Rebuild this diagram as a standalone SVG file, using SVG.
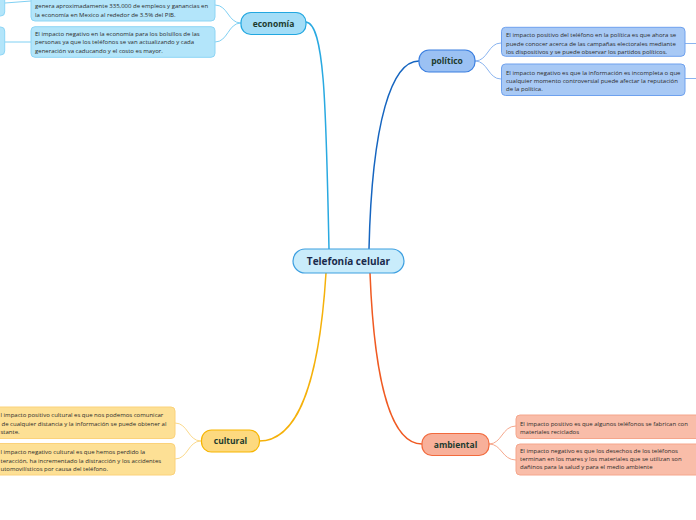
<svg xmlns="http://www.w3.org/2000/svg" width="696" height="520" viewBox="0 0 696 520">
<style>
.t{font-family:"Open Sans","Liberation Sans",sans-serif;font-size:6px;fill:#2b2b2b}
.n{font-family:"Open Sans","Liberation Sans",sans-serif;font-size:8.5px;font-weight:bold;fill:#1d3b2e;text-anchor:middle}
.c{font-family:"Open Sans","Liberation Sans",sans-serif;font-size:10px;font-weight:bold;fill:#1a2b4c;text-anchor:middle}
.main{fill:none;stroke-width:1.5}
.sub{fill:none;stroke-width:1}
.eb{fill:#b3e5fa;stroke:#8dd5f5;stroke-width:1}
.pb{fill:#a8c9f5;stroke:#6ea1ee;stroke-width:1}
.cb{fill:#fde095;stroke:#fbd27a;stroke-width:1}
.ab{fill:#f9bda9;stroke:#f5a68c;stroke-width:1}
</style>
<rect width="696" height="520" fill="#ffffff"/>
<g id="connectors">
<path class="main" stroke="#29a9e1" d="M329,249 C326,110 325,24 306,22"/>
<path class="main" stroke="#1565c0" d="M369,249 C372,120 392,61 419,61"/>
<path class="main" stroke="#f5b10a" d="M326,273 C318,400 292,441 259,441"/>
<path class="main" stroke="#f05a22" d="M370,273 C375,400 396,444 422,444"/>
<path class="sub" stroke="#7fd0f3" d="M241,23 C228,23 228,5 215,5"/>
<path class="sub" stroke="#7fd0f3" d="M241,23 C228,23 228,42 215,42"/>
<path class="sub" stroke="#7fd0f3" d="M5,3 L31,1"/>
<path class="sub" stroke="#7fd0f3" d="M5,42 L31,42"/>
<path class="sub" stroke="#8ab4f0" d="M475,61 C488,61 488,43 501,43"/>
<path class="sub" stroke="#8ab4f0" d="M475,61 C488,61 488,79 501,79"/>
<path class="sub" stroke="#8ab4f0" d="M685,43.5 L696,43.5"/>
<path class="sub" stroke="#8ab4f0" d="M685,78.5 L696,78.5"/>
<path class="sub" stroke="#fbd98a" d="M201,441 C188,441 188,423 175,423"/>
<path class="sub" stroke="#fbd98a" d="M201,441 C188,441 188,459 175,459"/>
<path class="sub" stroke="#f6a88d" d="M489,444 C502,444 502,426 516,426"/>
<path class="sub" stroke="#f6a88d" d="M489,444 C502,444 502,460 516,460"/>
</g>
<g id="central">
<rect x="293" y="249" width="111" height="24" rx="12" fill="#c9ecfb" stroke="#3d9fe0" stroke-width="1.2"/>
<text class="c" x="348.5" y="264.5">Telefonía celular</text>
</g>
<g id="economia">
<rect x="241" y="12.5" width="65" height="22" rx="10" fill="#a3ddf7" stroke="#22a7e0" stroke-width="1.2"/>
<text class="n" x="273.5" y="26.5">economía</text>
</g>
<g id="economia-left-1"><rect x="-20" y="-12" width="24.7" height="28" rx="4" class="eb"/></g>
<g id="economia-left-2"><rect x="-20" y="27" width="24.7" height="28" rx="4" class="eb"/></g>
<g id="economia-pos">
<rect x="31" y="-10" width="184" height="31" rx="4" class="eb"/>
<text class="t" x="35" y="8">genera aproximadamente 335,000 de empleos y ganancias en</text>
<text class="t" x="35" y="16.8">la economía en Mexico al rededor de 3.5% del PIB.</text>
</g>
<g id="economia-neg">
<rect x="31" y="26.7" width="184" height="30.6" rx="4" class="eb"/>
<text class="t" x="35" y="35.7">El impacto negativo en la economía para los bolsillos de las</text>
<text class="t" x="35" y="44.4">personas ya que los teléfonos se van actualizando y cada</text>
<text class="t" x="35" y="53">generación va caducando y el costo es mayor.</text>
</g>
<g id="politico">
<rect x="419" y="50" width="56" height="22" rx="10" fill="#9bc1f3" stroke="#3b7fe0" stroke-width="1.2"/>
<text class="n" x="447" y="64">político</text>
</g>
<g id="politico-pos">
<rect x="501.5" y="27.3" width="183.5" height="29" rx="4" class="pb"/>
<text class="t" x="506" y="37.3">El impacto positivo del teléfono en la política es que ahora se</text>
<text class="t" x="506" y="46">puede conocer acerca de las campañas electorales mediante</text>
<text class="t" x="506" y="54">los dispositivos y se puede observar los partidos políticos.</text>
</g>
<g id="politico-neg">
<rect x="501.5" y="64" width="183.5" height="31.5" rx="4" class="pb"/>
<text class="t" x="506" y="74.7">El impacto negativo es que la información es incompleta o que</text>
<text class="t" x="506" y="82.7">cualquier momento controversial puede afectar la reputación</text>
<text class="t" x="506" y="91">de la política.</text>
</g>
<g id="cultural">
<rect x="201.5" y="430" width="58" height="22" rx="10" fill="#fdd97f" stroke="#f7b500" stroke-width="1.2"/>
<text class="n" x="230.5" y="444">cultural</text>
</g>
<g id="cultural-pos">
<rect x="-10" y="407" width="185" height="31.5" rx="4" class="cb"/>
<text class="t" x="0.5" y="417">l impacto positivo cultural es que nos podemos comunicar</text>
<text class="t" x="1.5" y="426">de cualquier distancia y la información se puede obtener al</text>
<text class="t" x="0.5" y="434.3">stante.</text>
</g>
<g id="cultural-neg">
<rect x="-10" y="443.5" width="185" height="31.5" rx="4" class="cb"/>
<text class="t" x="0.5" y="454.3">l impacto negativo cultural es que hemos perdido la</text>
<text class="t" x="0.5" y="462.7">teracción, ha incrementado la distracción y los accidentes</text>
<text class="t" x="0.5" y="471">utomovilísticos por causa del teléfono.</text>
</g>
<g id="ambiental">
<rect x="422" y="433.5" width="67" height="22" rx="10" fill="#f8b09a" stroke="#f26a3d" stroke-width="1.2"/>
<text class="n" x="455.5" y="447.5">ambiental</text>
</g>
<g id="ambiental-pos">
<rect x="516" y="415" width="190" height="23.5" rx="4" class="ab"/>
<text class="t" x="520" y="425.7">El impacto positivo es que algunos teléfonos se fabrican con</text>
<text class="t" x="520" y="434.3">materiales reciclados</text>
</g>
<g id="ambiental-neg">
<rect x="516" y="444" width="190" height="31" rx="4" class="ab"/>
<text class="t" x="520" y="452.7">El impacto negativo es que los desechos de los teléfonos</text>
<text class="t" x="520" y="461">terminan en los mares y los materiales que se utilizan son</text>
<text class="t" x="520" y="469.3">dañinos para la salud y para el medio ambiente</text>
</g>
</svg>
